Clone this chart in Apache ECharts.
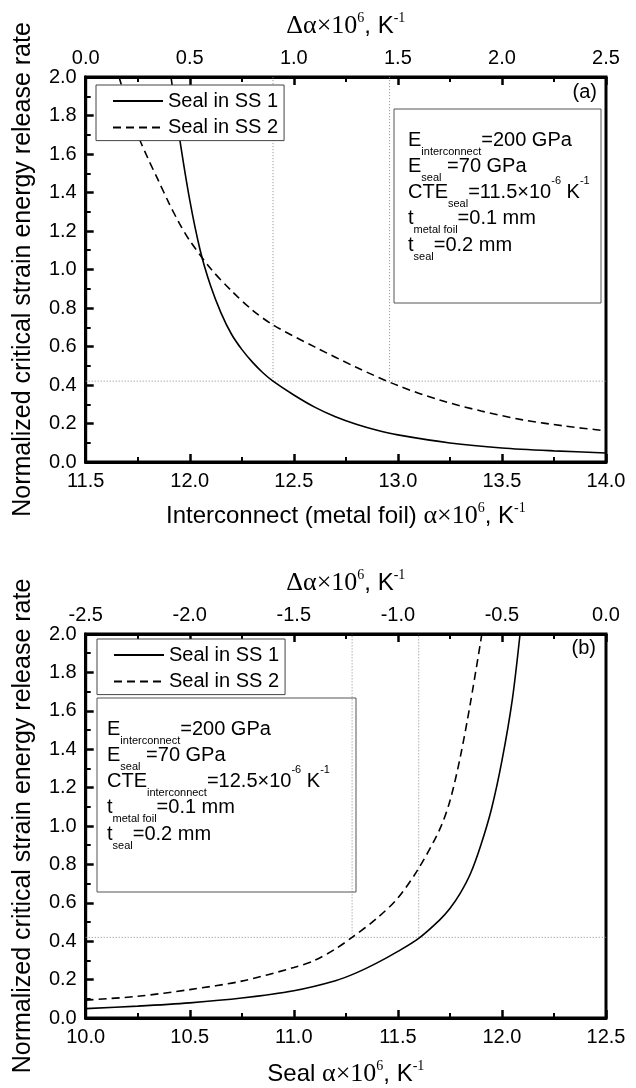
<!DOCTYPE html>
<html>
<head>
<meta charset="utf-8">
<script src="https://cdn.jsdelivr.net/npm/echarts@6/dist/echarts.min.js"></script>
<style>
html,body{margin:0;padding:0;background:#fff;}
#chart{width:636px;height:1088px;}
</style>
</head>
<body>
<div id="chart"></div>
<script>
// ---------- Data ----------
// Panel (a): x = interconnect alpha x10^6 (1/K)
const ss1A_x = [11.91, 11.95, 12.00, 12.05, 12.10, 12.15, 12.20, 12.25, 12.30, 12.35, 12.40, 12.50, 12.60, 12.70, 12.80, 12.90, 13.00, 13.25, 13.50, 13.75, 14.00];
const ss1A_y = [2.00, 1.69, 1.36, 1.10, 0.915, 0.775, 0.665, 0.585, 0.52, 0.465, 0.42, 0.348, 0.285, 0.235, 0.196, 0.165, 0.141, 0.099, 0.073, 0.058, 0.047];
const ss2A_x = [11.66, 11.70, 11.75, 11.80, 11.85, 11.90, 11.95, 12.00, 12.10, 12.20, 12.30, 12.40, 12.60, 12.80, 13.00, 13.20, 13.40, 13.60, 13.80, 14.00];
const ss2A_y = [2.00, 1.86, 1.70, 1.575, 1.46, 1.345, 1.24, 1.15, 1.005, 0.89, 0.79, 0.712, 0.598, 0.492, 0.397, 0.322, 0.265, 0.219, 0.187, 0.162];
// Panel (b): x = seal alpha x10^6 (1/K)
const ss1B_x = [10.00, 10.25, 10.50, 10.75, 11.00, 11.20, 11.30, 11.40, 11.50, 11.60, 11.70, 11.75, 11.80, 11.85, 11.90, 11.95, 12.00, 12.05, 12.087];
const ss1B_y = [0.049, 0.062, 0.079, 0.104, 0.142, 0.194, 0.235, 0.287, 0.347, 0.415, 0.51, 0.57, 0.65, 0.755, 0.905, 1.09, 1.34, 1.66, 2.00];
const ss2B_x = [10.00, 10.25, 10.50, 10.75, 11.00, 11.10, 11.20, 11.28, 11.40, 11.50, 11.60, 11.70, 11.75, 11.80, 11.85, 11.902];
const ss2B_y = [0.093, 0.113, 0.148, 0.192, 0.263, 0.30, 0.36, 0.42, 0.52, 0.625, 0.78, 0.98, 1.13, 1.36, 1.65, 1.99];
// Reference (dotted) lines
const refLevel = 0.42;
const refXA = [12.40, 12.96];
const refXB = [11.28, 11.60];
// Axis ranges / labels
const xRangeA = [11.5, 14.0], dRangeA = [0.0, 2.5];
const xRangeB = [10.0, 12.5], dRangeB = [-2.5, 0.0];
const yRange = [0, 2.0];
const seriesNames = ['Seal in SS 1', 'Seal in SS 2'];
const yTitle = 'Normalized critical strain energy release rate';

// ---------- helpers ----------
const zip = (xs, ys) => xs.map((x, i) => [x, ys[i]]);
const SANS = 'Liberation Sans', SERIF = 'Liberation Serif';
const NB = '\u00a0';

function baseAxis(grid, min, max, interval) {
  return {
    type: 'value', gridIndex: grid, min: min, max: max, interval: interval,
    axisLine: {show: true, onZero: false, lineStyle: {color: '#000', width: 3}},
    axisTick: {show: true, inside: true, length: 8, lineStyle: {color: '#000', width: 2.5}},
    minorTick: {show: true, splitNumber: 2, length: 5, lineStyle: {color: '#000', width: 2}},
    splitLine: {show: false}, minorSplitLine: {show: false},
    axisLabel: {color: '#000', fontSize: 20, fontFamily: SANS, margin: 9,
      formatter: v => Number(v).toFixed(1)}
  };
}
const nameRich = {
  g: {fontFamily: SERIF, fontSize: 26, lineHeight: 30, color: '#000'},
  a: {fontFamily: SANS, fontSize: 24, lineHeight: 30, color: '#000'},
  s: {fontFamily: SERIF, fontSize: 14, lineHeight: 18, verticalAlign: 'top', color: '#000'}
};
function xName(axis, text, gap) {
  axis.name = text; axis.nameLocation = 'middle'; axis.nameGap = gap;
  axis.nameTextStyle = {rich: nameRich};
  return axis;
}
function yAxisFor(grid) {
  const ax = baseAxis(grid, yRange[0], yRange[1], 0.2);
  ax.position = 'left';
  ax.name = yTitle; ax.nameLocation = 'middle'; ax.nameGap = 45;
  ax.nameTextStyle = {fontFamily: SANS, fontSize: 25, lineHeight: 30, color: '#000'};
  return ax;
}
const deltaName = '{g|Δα×10}{s|6}{a|, K}{s|-1}';

const xA = xName(Object.assign(baseAxis(0, xRangeA[0], xRangeA[1], 0.5), {position: 'bottom'}),
  '{a|Interconnect (metal foil)' + NB + '}{g|α×10}{s|6}{a|, K}{s|-1}', 39);
const dA = xName(Object.assign(baseAxis(0, dRangeA[0], dRangeA[1], 0.5), {position: 'top'}), deltaName, 36);
const xB = xName(Object.assign(baseAxis(1, xRangeB[0], xRangeB[1], 0.5), {position: 'bottom'}),
  '{a|Seal' + NB + '}{g|α×10}{s|6}{a|, K}{s|-1}', 41);
const dB = xName(Object.assign(baseAxis(1, dRangeB[0], dRangeB[1], 0.5), {position: 'top'}), deltaName, 36);

function curve(name, data, xi, yi, dashed) {
  return {
    type: 'line', name: name, xAxisIndex: xi, yAxisIndex: yi, data: data,
    symbol: 'none', smooth: 0.3, clip: true, z: 3,
    lineStyle: {color: '#000', width: 1.6, type: dashed ? [8, 5] : 'solid'},
    itemStyle: {color: '#000'}
  };
}
function dotted(data, xi, yi) {
  return {
    type: 'line', xAxisIndex: xi, yAxisIndex: yi, data: data, symbol: 'none',
    silent: true, z: 2, lineStyle: {color: '#8a8a8a', width: 1, type: [1, 2]}
  };
}
const series = [
  curve(seriesNames[0], zip(ss1A_x, ss1A_y), 0, 0, false),
  curve(seriesNames[1], zip(ss2A_x, ss2A_y), 0, 0, true),
  curve(seriesNames[0], zip(ss1B_x, ss1B_y), 2, 1, false),
  curve(seriesNames[1], zip(ss2B_x, ss2B_y), 2, 1, true),
  dotted([[xRangeA[0], refLevel], [xRangeA[1], refLevel]], 0, 0),
  dotted([[xRangeB[0], refLevel], [xRangeB[1], refLevel]], 2, 1)
];
refXA.forEach(x => series.push(dotted([[x, refLevel], [x, yRange[1]]], 0, 0)));
refXB.forEach(x => series.push(dotted([[x, refLevel], [x, yRange[1]]], 2, 1)));

function legendAt(left, top) {
  return {
    data: seriesNames, orient: 'vertical', left: left, top: top,
    itemWidth: 50, itemHeight: 14, itemGap: 4.6,
    padding: [5, 6, 2, 16],
    backgroundColor: '#fff', borderColor: '#444', borderWidth: 1,
    itemStyle: {color: 'rgba(0,0,0,0)', borderWidth: 0, opacity: 0},
    textStyle: {fontFamily: SANS, fontSize: 20, lineHeight: 22, color: '#000'},
    selectedMode: false, z: 10
  };
}

// parameter boxes
const pRich = {
  m: {fontSize: 20, fontFamily: SANS, lineHeight: 34, fill: '#000'},
  b: {fontSize: 11, fontFamily: SANS, lineHeight: 12, verticalAlign: 'bottom', fill: '#000'},
  p: {fontSize: 11, fontFamily: SANS, lineHeight: 22, verticalAlign: 'top', fill: '#000'}
};
const paramsA = [
  '{m|E}{b|interconnect}{m|=200 GPa}',
  '{m|E}{b|seal}{m|' + NB + '=70 GPa}',
  '{m|CTE}{b|seal}{m|=11.5×10}{p|-6}{m|' + NB + 'K}{p|-1}',
  '{m|t}{b|metal foil}{m|=0.1 mm}',
  '{m|t}{b|seal}{m|=0.2 mm}'
];
const paramsB = [
  '{m|E}{b|interconnect}{m|=200 GPa}',
  '{m|E}{b|seal}{m|' + NB + '=70 GPa}',
  '{m|CTE}{b|interconnect}{m|=12.5×10}{p|-6}{m|' + NB + 'K}{p|-1}',
  '{m|t}{b|metal foil}{m|=0.1 mm}',
  '{m|t}{b|seal}{m|=0.2 mm}'
];
function paramBox(x, y, w, h, tx, ty0, dy, lines) {
  const els = [{type: 'rect', shape: {x: x, y: y, width: w, height: h},
    style: {fill: 'none', stroke: '#555', lineWidth: 1}, z: 5}];
  lines.forEach((t, i) => els.push({
    type: 'text', x: tx, y: ty0 + i * dy, z: 6,
    style: {text: t, rich: pRich, align: 'left', verticalAlign: 'middle'}
  }));
  return els;
}
const graphic = [].concat(
  paramBox(394, 109, 207, 194, 408, 140, 26.3, paramsA),
  paramBox(97, 698, 259, 194, 107, 729, 26.3, paramsB),
  [
    {type: 'text', x: 597, y: 92, z: 6, style: {text: '(a)', fontSize: 20, fontFamily: SANS, fill: '#000', align: 'right', verticalAlign: 'middle'}},
    {type: 'text', x: 596, y: 648, z: 6, style: {text: '(b)', fontSize: 20, fontFamily: SANS, fill: '#000', align: 'right', verticalAlign: 'middle'}}
  ]
);

const chart = echarts.init(document.getElementById('chart'), null, {renderer: 'canvas'});
chart.setOption({
  animation: false,
  backgroundColor: '#fff',
  textStyle: {fontFamily: SANS},
  grid: [
    {left: 85, top: 77, width: 521, height: 385, show: true, borderColor: '#000', borderWidth: 3, backgroundColor: 'transparent'},
    {left: 85, top: 634, width: 521, height: 385, show: true, borderColor: '#000', borderWidth: 3, backgroundColor: 'transparent'}
  ],
  xAxis: [xA, dA, xB, dB],
  yAxis: [yAxisFor(0), yAxisFor(1)],
  legend: [legendAt(96, 85), legendAt(97, 639)],
  series: series,
  graphic: graphic
});
</script>
</body>
</html>
